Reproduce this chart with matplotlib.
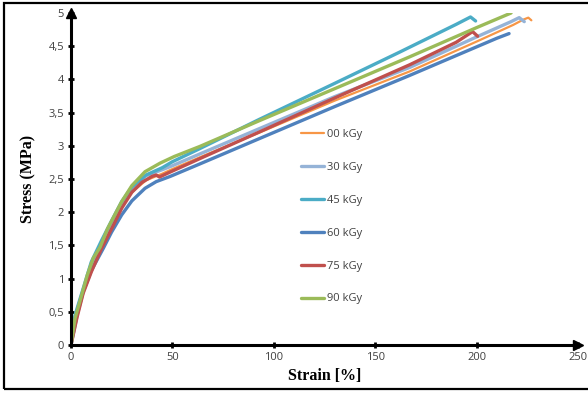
"""
Stress-strain curves for the irradiated samples (00-90 kGy), Excel-like look:
thick black axes with arrows, comma decimals, legend floating in the plot.
"""
import matplotlib
matplotlib.use("Agg")
import matplotlib.pyplot as plt
from matplotlib.patches import Rectangle
from matplotlib.ticker import FuncFormatter

# values (strain %, stress MPa)
x00 = [0, 3, 6, 10, 15, 20, 25, 30, 37, 45, 50, 63, 93, 130, 167, 200, 218, 223, 225.5, 227]
y00 = [0, 0.45, 0.8, 1.12, 1.47, 1.78, 2.08, 2.3, 2.48, 2.58, 2.65, 2.82, 3.2, 3.68, 4.12, 4.57, 4.82, 4.9, 4.93, 4.89]
x30 = [0, 2, 5, 10, 15, 20, 25, 30, 37, 45, 50, 63, 93, 130, 167, 200, 217, 221, 223.5]
y30 = [0, 0.42, 0.72, 1.2, 1.52, 1.82, 2.12, 2.36, 2.55, 2.64, 2.7, 2.87, 3.26, 3.74, 4.18, 4.64, 4.87, 4.93, 4.87]
x45 = [0, 2, 5, 10, 15, 20, 25, 30, 37, 45, 50, 63, 93, 130, 162, 190, 197, 199.5]
y45 = [0, 0.45, 0.75, 1.25, 1.57, 1.87, 2.16, 2.38, 2.56, 2.67, 2.76, 2.95, 3.40, 3.94, 4.41, 4.83, 4.94, 4.88]
x60 = [0, 3, 6, 10, 16, 20, 25, 30, 36.5, 42, 49, 63, 93, 130, 167, 200, 210, 216]
y60 = [0, 0.45, 0.8, 1.12, 1.46, 1.7, 1.96, 2.17, 2.36, 2.46, 2.54, 2.72, 3.11, 3.59, 4.06, 4.49, 4.62, 4.69]
x75 = [0, 3, 6, 10, 15, 20, 25, 30, 35, 40, 42, 43.6, 50, 63, 93, 130, 167, 190, 198, 200.5]
y75 = [0, 0.42, 0.78, 1.1, 1.45, 1.75, 2.06, 2.3, 2.45, 2.54, 2.56, 2.53, 2.62, 2.8, 3.21, 3.72, 4.22, 4.56, 4.72, 4.65]
x90 = [0, 2, 4.4, 8, 11, 14.3, 18, 25, 30, 36.5, 44, 51, 63.5, 93, 130, 167, 200, 217]
y90 = [0, 0.4, 0.66, 1.05, 1.31, 1.47, 1.75, 2.16, 2.4, 2.61, 2.74, 2.84, 2.99, 3.38, 3.86, 4.34, 4.78, 5.0]

# (label, x, y, color, lw)
SERIES = [("00 kGy", x00, y00, "#F79646", 1.6),
          ("30 kGy", x30, y30, "#95B3D7", 2.4),
          ("45 kGy", x45, y45, "#4BACC6", 2.4),
          ("60 kGy", x60, y60, "#4F81BD", 2.4),
          ("75 kGy", x75, y75, "#C0504D", 2.4),
          ("90 kGy", x90, y90, "#9BBB59", 2.4)]

xticks = [0, 50, 100, 150, 200, 250]
yticks = [0, 0.5, 1, 1.5, 2, 2.5, 3, 3.5, 4, 4.5, 5]

fig = plt.figure(figsize=(5.88, 3.93), dpi=100)
ax = fig.add_axes([71 / 588, 48 / 393, 507 / 588, 332 / 393])

for lab, xs, ys, c, lw in SERIES:
    ax.plot(xs, ys, color=c, lw=lw, label=lab, solid_joinstyle="round", solid_capstyle="round")

ax.set_xlim(0, 250); ax.set_ylim(0, 5)
ax.set_xticks(xticks); ax.set_yticks(yticks)
ax.yaxis.set_major_formatter(FuncFormatter(lambda v, p: f"{v:g}".replace(".", ",")))
ax.tick_params(direction="inout", length=4, width=2, colors="black", labelcolor="#404040",
               labelsize=8, pad=3)
for t in ax.get_xticklabels() + ax.get_yticklabels():
    t.set_family("Open Sans")
for s in ("top", "right"):
    ax.spines[s].set_visible(False)
for s in ("left", "bottom"):
    ax.spines[s].set_linewidth(2.2)
# arrow heads at the axis ends
ax.plot([0], [1], marker="^", ms=7, color="black", transform=ax.transAxes, clip_on=False)
ax.plot([1], [0], marker=">", ms=7, color="black", transform=ax.transAxes, clip_on=False)

ax.set_xlabel("Strain [%]", family="Liberation Serif", weight="bold", fontsize=11.5, labelpad=4)
ax.set_ylabel("Stress (MPa)", family="Liberation Serif", weight="bold", fontsize=11.5, labelpad=9)

leg = ax.legend(loc="upper left", bbox_to_anchor=(291 / 588, 1 - 119 / 393),
                bbox_transform=fig.transFigure, frameon=False, fontsize=8,
                handlelength=2.1, handletextpad=0.2, labelspacing=1.97)
for t in leg.get_texts():
    t.set_family("Open Sans"); t.set_color("#404040")

# figure border (right side runs off the picture, as in the reference)
fig.patches.append(Rectangle((4 / 588, 4 / 393), 1.0, 386 / 393, transform=fig.transFigure,
                             fill=False, ec="black", lw=1.6))

plt.savefig("out.png", dpi=100)
